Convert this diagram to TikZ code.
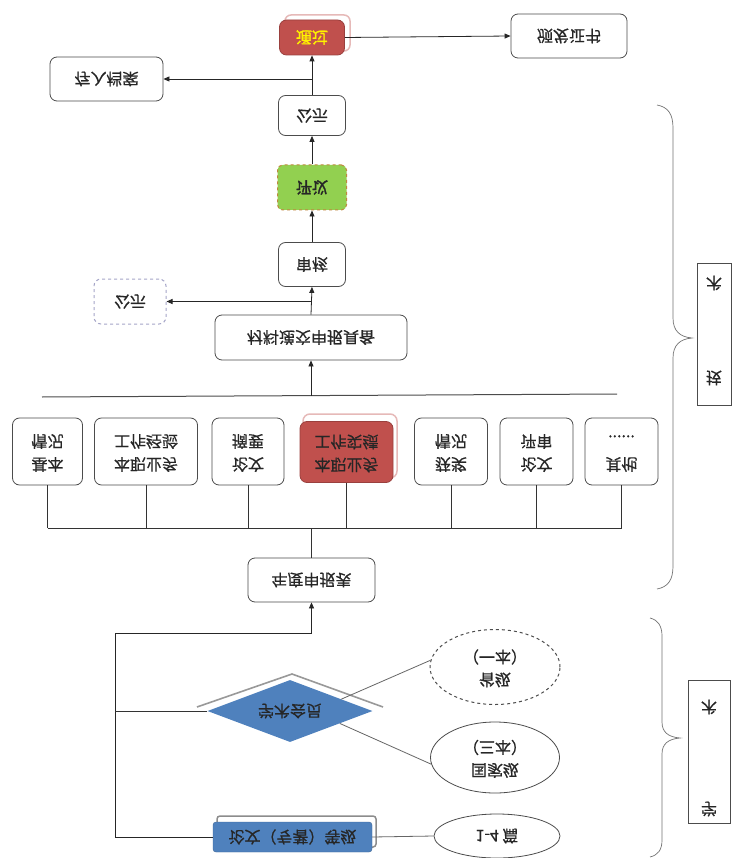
\documentclass[tikz,border=0pt]{standalone}
\usepackage{fontspec}
\usepackage{graphicx}
\setmainfont{Noto Sans CJK SC}[FakeBold=0.7]
\newfontfamily\bcjk{Noto Sans CJK SC}[FakeBold=2]
\usetikzlibrary{shapes.geometric,arrows.meta}
\definecolor{redfill}{HTML}{C0504D}
\definecolor{pinkline}{HTML}{E6B9B8}
\definecolor{greenfill}{HTML}{92D050}
\definecolor{greenline}{HTML}{C0873F}
\definecolor{bluefill}{HTML}{4F81BD}
\definecolor{lav}{HTML}{A5A5C8}
\definecolor{txt}{HTML}{262626}
\newcommand\fv[1]{\scalebox{1}[-1]{#1}}
\newcommand\fvv[2]{\scalebox{1}[-1]{\begin{tabular}{@{}c@{}}#1\\#2\end{tabular}}}
\begin{document}
\begin{tikzpicture}[x=1pt,y=-1pt,
  font=\fontsize{16}{23}\selectfont\color{txt},
  box/.style={draw=black!70, rounded corners=7pt, line width=0.8pt, fill=white, inner sep=0pt},
  redbox/.style={box, fill=redfill, draw=redfill!80!black},
  greenbox/.style={box, fill=greenfill, draw=greenline, dashed, line width=1pt, rounded corners=5pt},
  dbox/.style={box, draw=lav, dashed, line width=1pt},
  arr/.style={-{Triangle[length=6pt,width=5pt]}, line width=0.8pt, draw=black!85},
  ln/.style={line width=0.8pt, draw=black!80},
  gln/.style={line width=0.8pt, draw=black!60},
  brace/.style={line width=0.7pt, draw=black!55}]
\useasboundingbox (0,0) rectangle (733,858);
\fill[white] (0,0) rectangle (733,858);

% ---------- top part ----------
\draw[pinkline, line width=1.5pt, rounded corners=6pt] (285,15) rectangle (350,51);
\node[redbox, minimum width=65pt, minimum height=35pt] (pass) at (312,37.5) {\fv{\bcjk\color{yellow}通过}};
\node[box, minimum width=116pt, minimum height=44pt] (cert) at (569,36) {\fv{颁发证书}};
\node[box, minimum width=113pt, minimum height=44pt] (arch) at (106.5,79) {\fv{存入档案}};
\node[box, minimum width=67pt, minimum height=40pt] (gs2) at (312,115.5) {\fv{公示}};
\node[greenbox, minimum width=69pt, minimum height=45pt] (ps) at (312,187.5) {\fv{\bcjk 评议}};
\node[box, minimum width=67pt, minimum height=44pt] (sh) at (312,264.5) {\fv{审核}};
\node[dbox, minimum width=72pt, minimum height=45pt] (gs1) at (130,301.5) {\fv{公示}};
\node[box, minimum width=192pt, minimum height=45pt] (cl) at (311,337.5) {\fv{材料递交申报具备}};

\draw[arr] (pass.east) -- (cert.west);
\draw[arr] (gs2.north) -- (pass.south);
\draw[arr] (gs2.north |- arch.east) -- (arch.east);
\draw[arr] (ps.north) -- (gs2.south);
\draw[arr] (sh.north) -- (ps.south);
\draw[arr] (cl.north) -- (sh.south);
\draw[arr] (cl.north |- gs1.east) -- (gs1.east);

% separator
\coordinate (sepL) at (42,397);
\coordinate (sepR) at (617,394);
\coordinate (sepC) at (311,395.5);
\draw[line width=1pt, draw=black!70] (sepL) -- (sepR);
\draw[arr] (sepC) -- (cl.south);

% ---------- seven boxes ----------
\node[box, minimum width=70pt, minimum height=67pt] (b1) at (47.5,451.5) {\fvv{基本}{情况}};
\node[box, minimum width=103pt, minimum height=67pt] (b2) at (146,451.5) {\fvv{本职业务}{工作经验}};
\node[box, minimum width=72pt, minimum height=67pt] (b3) at (248,451.5) {\fvv{论文}{摘要}};
\draw[pinkline, line width=1.5pt, rounded corners=7pt] (303,414) rectangle (397,478);
\node[redbox, minimum width=93pt, minimum height=61pt] (b4) at (346.5,452) {\fvv{本职业务}{工作实绩}};
\node[box, minimum width=73pt, minimum height=67pt] (b5) at (451,451.5) {\fvv{获奖}{情况}};
\node[box, minimum width=73pt, minimum height=67pt] (b6) at (536.5,451.5) {\fvv{论文}{评审}};
\node[box, minimum width=73pt, minimum height=67pt] (b7) at (621.5,451.5) {\fvv{其他}{......}};

\coordinate (bus) at (47.5,528);
\foreach \b in {b1,b2,b3,b4,b5,b6,b7}{\draw[ln] (\b.south) -- (\b.south |- bus);}
\draw[ln] (b1.south |- bus) -- (b7.south |- bus);

\node[box, minimum width=127pt, minimum height=44pt] (ap) at (311.5,580) {\fv{年度申报表}};
\draw[ln] (ap.north |- bus) -- (ap.north);

% ---------- bottom part ----------
\draw[line width=1.6pt, draw=black!40] (197,707) -- (292,674) -- (383,707);
\node[diamond, aspect=3, inner sep=0pt, fill=bluefill, minimum width=165pt, minimum height=62pt] (dia) at (290,711) {\fv{学术会员}};
\node[ellipse, draw=black!70, dashed, line width=1pt, minimum width=130pt, minimum height=75pt, inner sep=0pt] (e1) at (495,667) {\fvv{省级}{（一本）}};
\node[ellipse, draw=black!70, line width=0.8pt, minimum width=129pt, minimum height=71pt, inner sep=0pt] (e2) at (495,757.5) {\fvv{国家级}{（三本）}};
\node[ellipse, draw=black!70, line width=0.8pt, minimum width=126pt, minimum height=44pt, inner sep=0pt] (e3) at (497,836) {\fv{1-4 篇}};
\draw[black!45, line width=1.5pt, rounded corners=3pt] (217,816) rectangle (376,847);
\node[draw=bluefill!80!black, fill=bluefill, rounded corners=3pt, minimum width=159pt, minimum height=30pt, inner sep=0pt] (blue) at (292.5,837) {\fv{论文（专著）等级}};

\draw[gln] (dia.13) -- (e1.174);
\draw[gln] (dia.-14) -- (e2.186);
\draw[gln] (blue.east) -- (e3.west);

\coordinate (lc) at (115,633);
\draw[arr] (blue.west) -| (lc) -| (ap.south);
\draw[ln] (dia.west) -- (dia.west -| lc);

% ---------- braces and labels ----------
\draw[brace] (657,105) .. controls (668,107) and (673,114) .. (673,128) -- (673,318)
  .. controls (673,331) and (680,337) .. (692,338)
  .. controls (680,339) and (673,345) .. (673,358) -- (673,566)
  .. controls (673,580) and (668,587) .. (657,589);
\draw[black!70, line width=0.8pt] (697,263) rectangle (731,405);
\node (u1) at (714,283) {\fv{术}};
\node (u2) at (714,378) {\fv{技}};

\draw[brace] (650,618) .. controls (658,620) and (662,626) .. (662,636) -- (662,722)
  .. controls (662,732) and (668,737) .. (680,738)
  .. controls (668,739) and (662,744) .. (662,754) -- (662,840)
  .. controls (662,850) and (658,855) .. (650,857);
\draw[black!70, line width=0.8pt] (688,680) rectangle (730,823);
\node (d1) at (709,707) {\fv{术}};
\node (d2) at (709,809) {\fv{学}};
\end{tikzpicture}
\end{document}
